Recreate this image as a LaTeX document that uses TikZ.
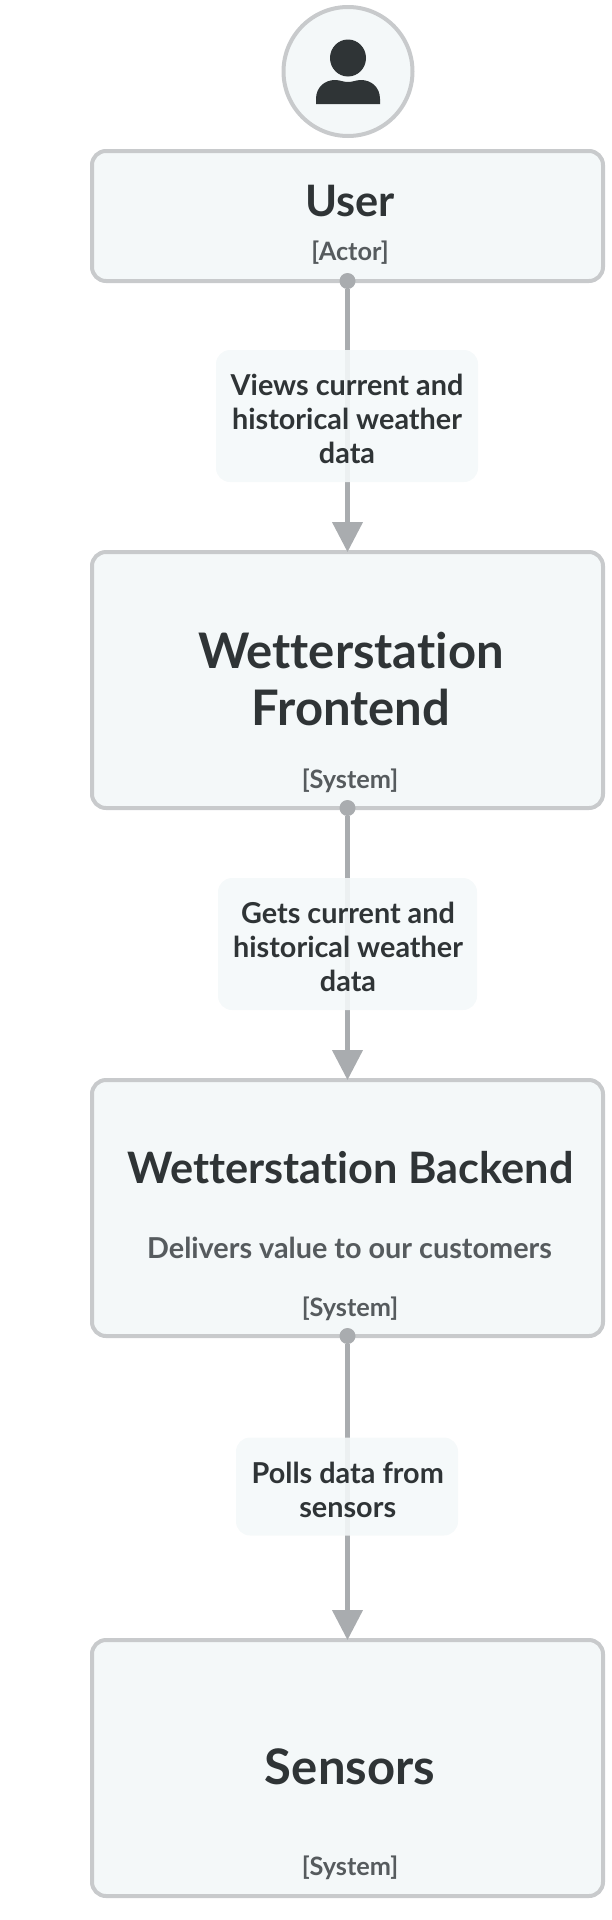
\documentclass[tikz,border=0pt]{standalone}
\usepackage{fontspec}
\setmainfont{Lato}[Ligatures=NoCommon]
\usetikzlibrary{arrows.meta, positioning}
\definecolor{boxfill}{HTML}{F4F8F9}
\definecolor{boxline}{HTML}{C8CACC}
\definecolor{flowline}{HTML}{A9ACAF}
\definecolor{darktext}{HTML}{2F3436}
\definecolor{softtext}{HTML}{565B5E}
\tikzstyle{sysbox} = [draw=boxline, fill=boxfill, line width=4pt, rectangle, rounded corners=14pt, minimum width=511pt, minimum height=256pt, outer sep=0pt]
\tikzstyle{actorbox} = [sysbox, minimum height=130pt]
\tikzstyle{avatar} = [draw=boxline, fill=boxfill, line width=4pt, circle, minimum size=129pt, outer sep=0pt]
\tikzstyle{title} = [text=darktext, font=\fontsize{49}{57}\selectfont\bfseries, align=center]
\tikzstyle{smalltitle} = [title, font=\fontsize{43.3}{57}\selectfont\bfseries]
\tikzstyle{kind} = [text=softtext, font=\fontsize{25.3}{29}\selectfont\bfseries]
\tikzstyle{descr} = [text=softtext, font=\fontsize{28.8}{34}\selectfont\bfseries]
\tikzstyle{flowbox} = [fill=boxfill, fill opacity=0.9, rounded corners=14pt]
\tikzstyle{flowtext} = [text=darktext, font=\fontsize{28.8}{34}\selectfont\bfseries, align=center]
\tikzstyle{startdot} = [fill=flowline, circle, minimum size=16pt, inner sep=0pt, outer sep=0pt]
\tikzstyle{flow} = [draw=flowline, line width=4.2pt, -{Triangle[length=30pt,width=30pt]}]

\begin{document}
\begin{tikzpicture}[x=1pt, y=-1pt]
	\useasboundingbox (0,0) rectangle (612,1920);
	% boxes
	\node [avatar] (avatar) at (348,71.5) {};
	\node [actorbox] (user) at (347.5,216) {};
	\node [sysbox] (frontend) at (347.5,680) {};
	\node [sysbox] (backend) at (347.5,1208) {};
	\node [sysbox] (sensors) at (347.5,1768) {};
	% person icon
	\fill [darktext] (348,58) ellipse (18pt and 18.5pt);
	\fill [darktext] (316,104) -- (316,99) .. controls (316,87) and (325,80) .. (335,80) .. controls (340,80) and (343,82) .. (348,82) .. controls (353,82) and (356,80) .. (361,80) .. controls (371,80) and (380,87) .. (380,99) -- (380,104) -- cycle;
	% texts
	\node [smalltitle] (usertitle) at (350,201) {User};
	\node [kind] (userkind) at (350,253) {[Actor]};
	\node [title] (fronttitle) at (351,679.5) {Wetterstation\\Frontend};
	\node [kind] (frontkind) at (350,781) {[System]};
	\node [smalltitle] (backtitle) at (350.5,1168) {Wetterstation Backend};
	\node [descr] (backdescr) at (349.5,1248) {Delivers value to our customers};
	\node [kind] (backkind) at (350,1309) {[System]};
	\node [title] (sensortitle) at (350,1767) {Sensors};
	\node [kind] (sensorkind) at (350,1868) {[System]};
	% connectors
	\node [startdot] (dota) at (user.south) {};
	\node [startdot] (dotb) at (frontend.south) {};
	\node [startdot] (dotc) at (backend.south) {};
	\draw [flow] (dota) -- (frontend.north);
	\draw [flow] (dotb) -- (backend.north);
	\draw [flow] (dotc) -- (sensors.north);
	\node [flowbox, minimum width=262pt, minimum height=132pt] (viewsbox) at (347,416) {};
	\node [flowtext] (viewstext) at (347,418.6) {Views current and\\historical weather\\data};
	\node [flowbox, minimum width=259pt, minimum height=132pt] (getsbox) at (347.5,944) {};
	\node [flowtext] (getstext) at (348,946.6) {Gets current and\\historical weather\\data};
	\node [flowbox, minimum width=222pt, minimum height=98pt] (pollsbox) at (347,1486.5) {};
	\node [flowtext] (pollstext) at (347.7,1490) {Polls data from\\sensors};
\end{tikzpicture}
\end{document}
